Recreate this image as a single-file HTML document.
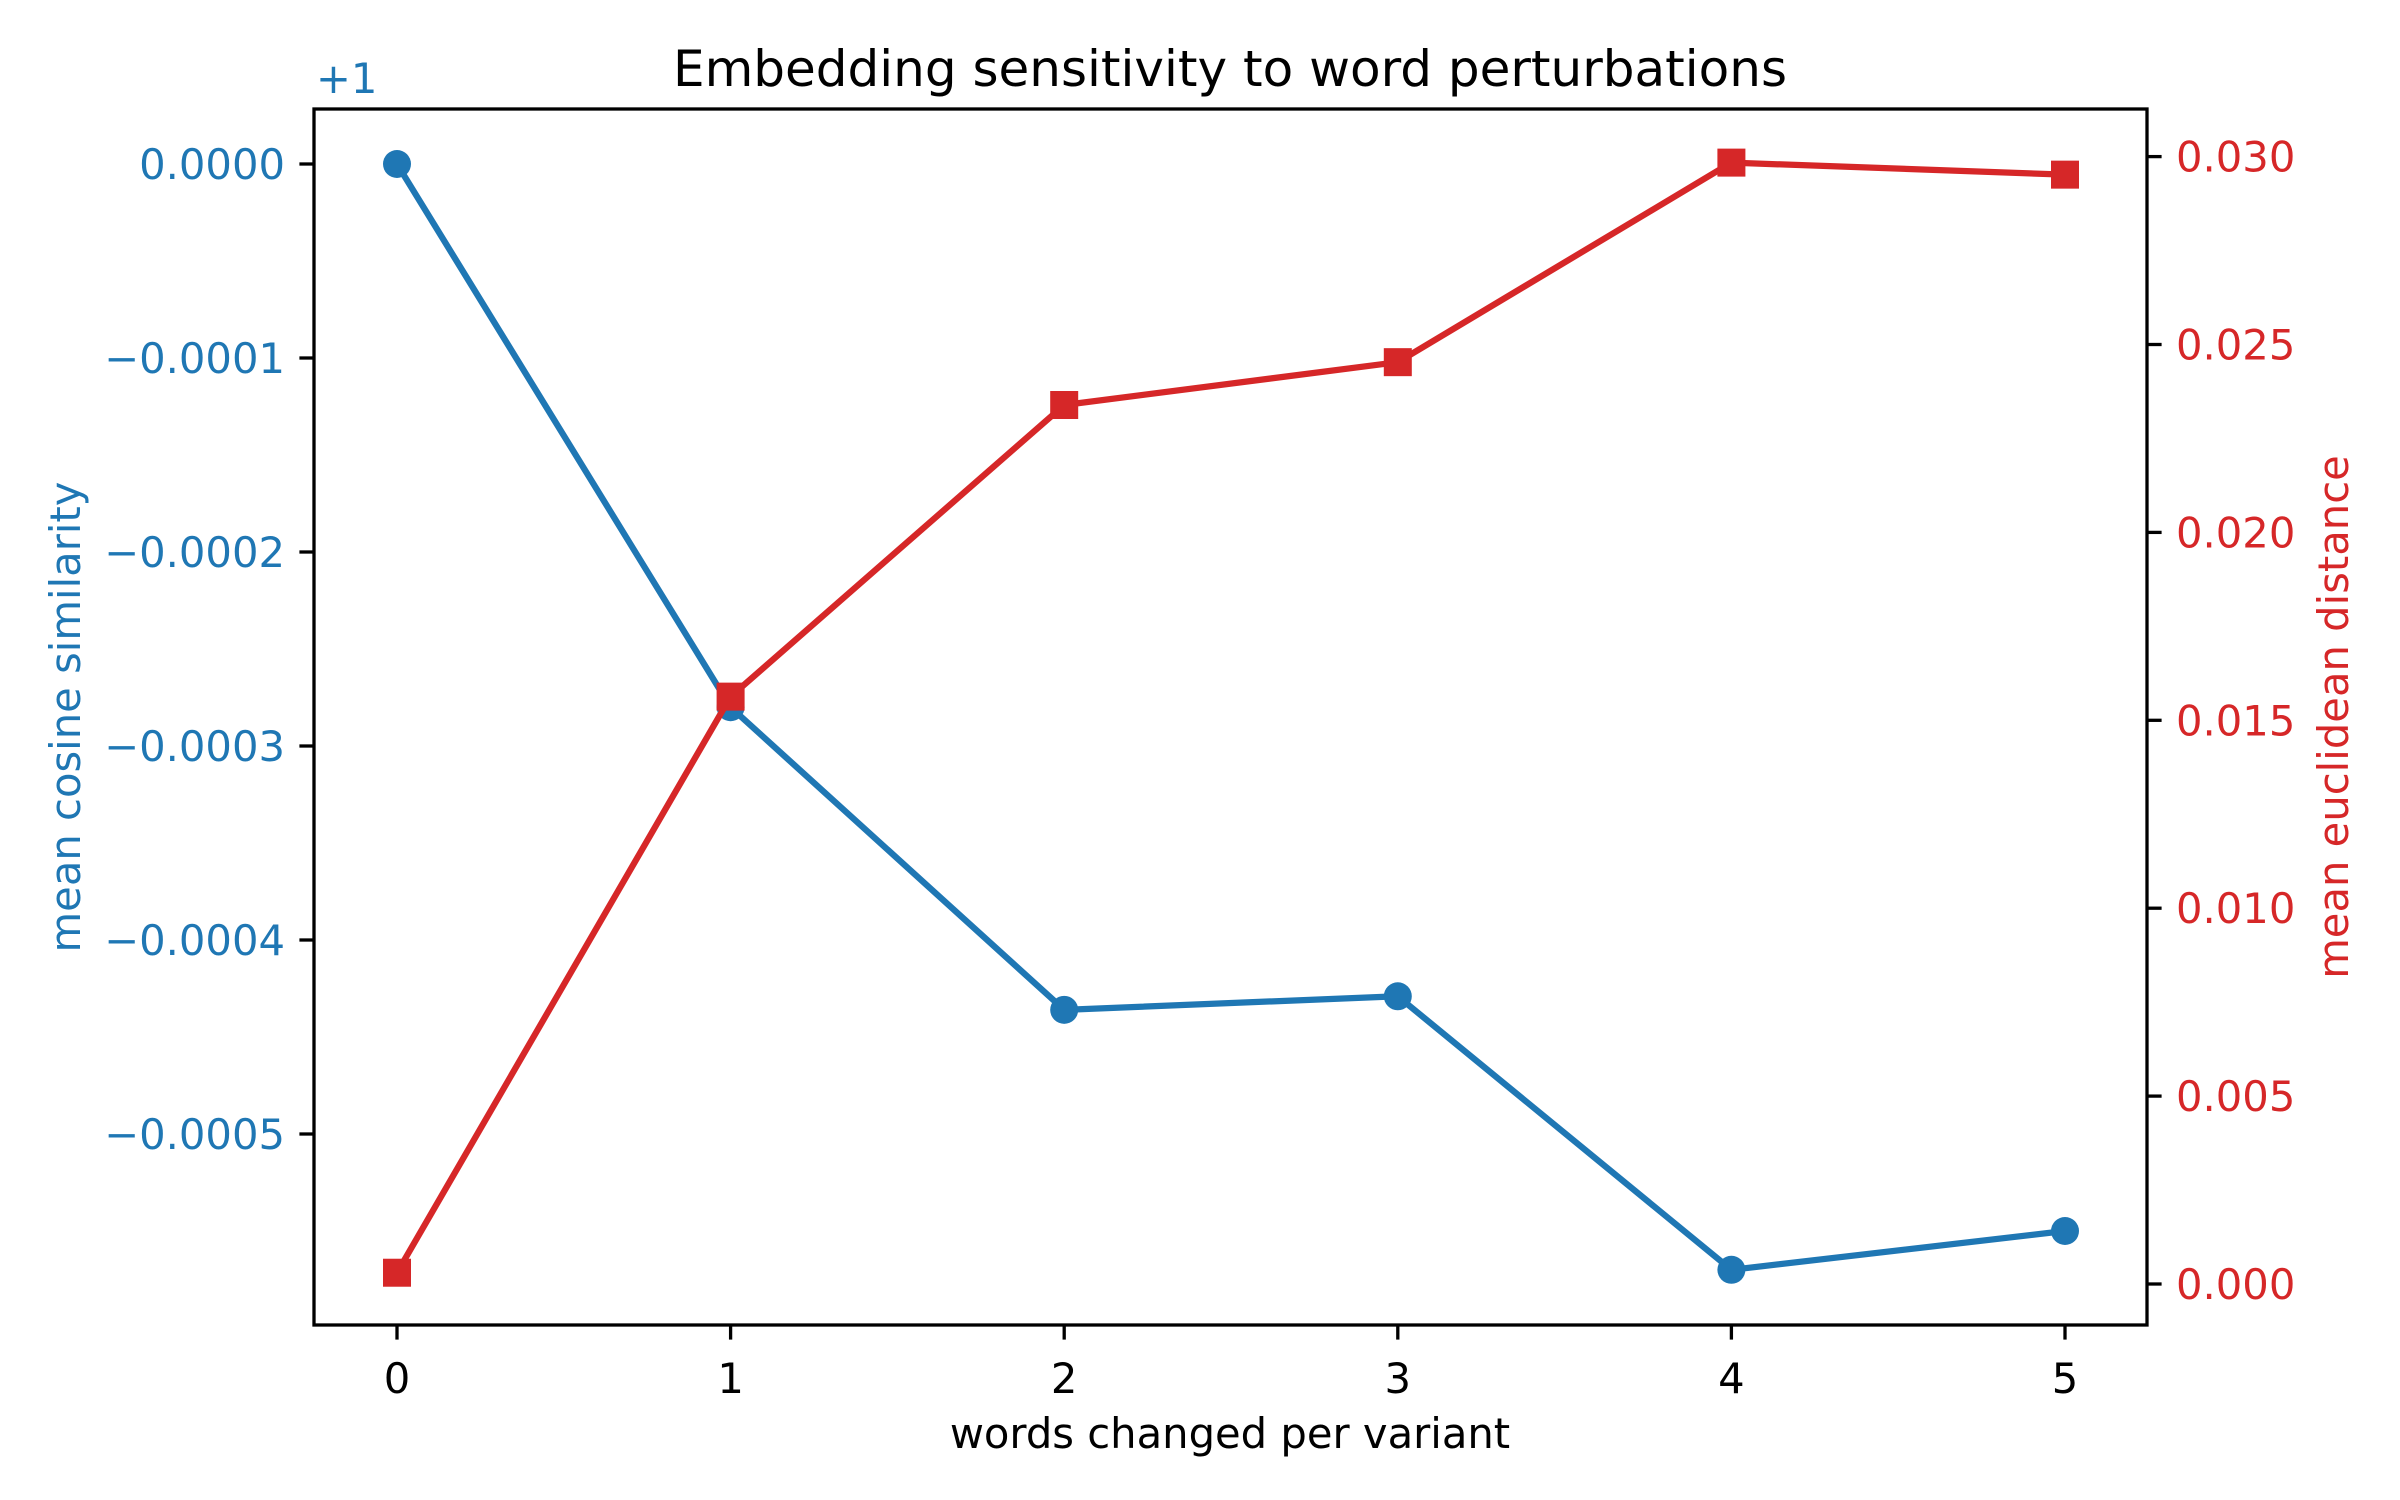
<!DOCTYPE html>
<html><head><meta charset="utf-8"><style>
html,body{margin:0;padding:0;background:#fff;}
svg{display:block;font-family:"DejaVu Sans","Liberation Sans",sans-serif;}
</style></head><body>
<svg id="chart" width="2400" height="1500" viewBox="0 0 2400 1500" xmlns="http://www.w3.org/2000/svg">
<rect width="2400" height="1500" fill="#fff"/>
<text x="1230" y="86" font-size="50" text-anchor="middle" fill="#000">Embedding sensitivity to word perturbations</text>
<text x="1230" y="1448" font-size="41.7" text-anchor="middle" fill="#000">words changed per variant</text>
<text transform="translate(80,717) rotate(-90)" font-size="41.7" text-anchor="middle" fill="#1f77b4">mean cosine similarity</text>
<text transform="translate(2348,717) rotate(-90)" font-size="41.7" text-anchor="middle" fill="#d62728">mean euclidean distance</text>
<text x="316" y="93" font-size="41.7" fill="#1f77b4">+1</text>
<g id="ticks"></g>
<g id="series"></g>
<rect x="314" y="109" width="1833" height="1216" fill="none" stroke="#000" stroke-width="3.3"/>
</svg>
<script>
const categories = [0, 1, 2, 3, 4, 5];
const cosineValues = [0.0, -0.000280, -0.000436, -0.000429, -0.000570, -0.000550];
const euclidValues = [0.0003, 0.01563, 0.02339, 0.02453, 0.02984, 0.02952];
const leftTicks = [0, -0.0001, -0.0002, -0.0003, -0.0004, -0.0005];
const leftTickLabels = ["0.0000", "\u22120.0001", "\u22120.0002", "\u22120.0003", "\u22120.0004", "\u22120.0005"];
const rightTicks = [0, 0.005, 0.01, 0.015, 0.02, 0.025, 0.03];
const rightTickLabels = ["0.000", "0.005", "0.010", "0.015", "0.020", "0.025", "0.030"];

const NS = "http://www.w3.org/2000/svg";
const L = 314, R = 2147, T = 109, B = 1325;
function xS(v){ return 397 + v * 333.6; }
function yL(v){ return 164 - v / 0.0001 * 194; }
function yR(v){ return 1284 - v / 0.005 * 187.9; }
function mk(tag, attrs, parent){
  const e = document.createElementNS(NS, tag);
  for (const k in attrs) e.setAttribute(k, attrs[k]);
  parent.appendChild(e);
  return e;
}
const tg = document.getElementById('ticks');
const sg = document.getElementById('series');

categories.forEach((c) => {
  const x = xS(c);
  const t = mk('line', {x1:x, x2:x, y1:B, y2:B+14.6, stroke:'#000', 'stroke-width':3.3}, tg);
  
  
  const l = mk('text', {x:x, y:B+68, 'font-size':41.7, 'text-anchor':'middle', fill:'#000'}, tg);
  l.textContent = String(c);
  
  
});
leftTicks.forEach((v, i) => {
  const y = yL(v);
  const t = mk('line', {x1:L-14.6, x2:L, y1:y, y2:y, stroke:'#000', 'stroke-width':3.3}, tg);
  
  
  const l = mk('text', {x:L-29, y:y+15, 'font-size':41.7, 'text-anchor':'end', fill:'#1f77b4'}, tg);
  l.textContent = leftTickLabels[i];
  
  
});
rightTicks.forEach((v, i) => {
  const y = yR(v);
  const t = mk('line', {x1:R, x2:R+14.6, y1:y, y2:y, stroke:'#000', 'stroke-width':3.3}, tg);
  
  
  const l = mk('text', {x:R+29, y:y+15, 'font-size':41.7, 'text-anchor':'start', fill:'#d62728'}, tg);
  l.textContent = rightTickLabels[i];
  
  
});

const bluePts = categories.map((c, i) => xS(c) + ',' + yL(cosineValues[i])).join(' ');
const bl = mk('polyline', {points:bluePts, fill:'none', stroke:'#1f77b4', 'stroke-width':6.25, 'stroke-linejoin':'round'}, sg);


categories.forEach((c, i) => {
  const m = mk('circle', {cx:xS(c), cy:yL(cosineValues[i]), r:14, fill:'#1f77b4'}, sg);
  
  
});
const redPts = categories.map((c, i) => xS(c) + ',' + yR(euclidValues[i])).join(' ');
const rl = mk('polyline', {points:redPts, fill:'none', stroke:'#d62728', 'stroke-width':6.25, 'stroke-linejoin':'round'}, sg);


categories.forEach((c, i) => {
  const m = mk('rect', {x:xS(c)-14, y:yR(euclidValues[i])-14, width:28, height:28, fill:'#d62728'}, sg);
  
  
});
</script>
</body></html>
